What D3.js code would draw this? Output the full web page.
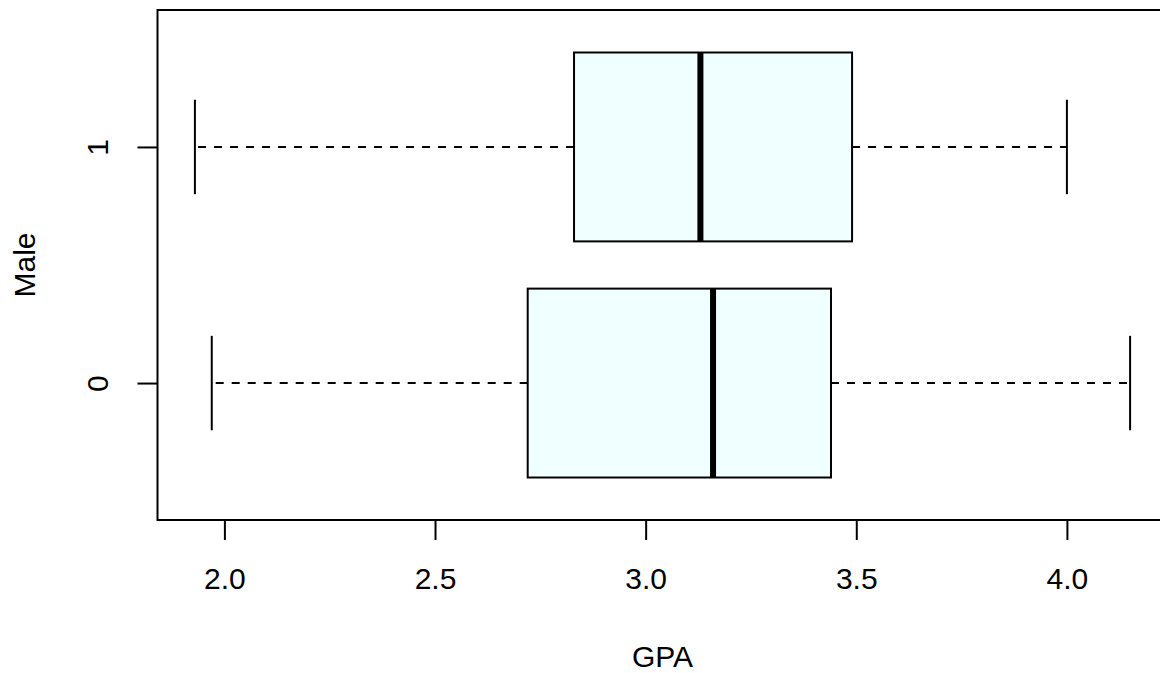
<!DOCTYPE html>
<html>
<head>
<meta charset="utf-8">
<script src="https://cdn.jsdelivr.net/npm/d3@7"></script>
<style>
  body { margin: 0; background: #fff; }
  svg { display: block; font-family: "Liberation Sans", Arial, sans-serif; }
</style>
</head>
<body>
<svg id="chart" width="1160" height="673"></svg>
<script>
// boxplot stats for GPA by Male
const groups = ["0", "1"];
const whiskerLow = [1.97, 1.93];
const lowerQuartile = [2.72, 2.83];
const medians = [3.16, 3.13];
const upperQuartile = [3.44, 3.49];
const whiskerHigh = [4.15, 4.00];
const xTicks = [2.0, 2.5, 3.0, 3.5, 4.0];

const boxes = groups.map((g, i) => ({
  group: g,
  pos: i + 1,
  lo: whiskerLow[i],
  q1: lowerQuartile[i],
  med: medians[i],
  q3: upperQuartile[i],
  hi: whiskerHigh[i]
}));

const plotLeft = 157.5, plotRight = 1167.5, plotTop = 10, plotBottom = 520;
const fontSize = 30;

let svg = d3.select("#chart");

// R-style 4% extension of the data range
let xMin = d3.min(whiskerLow), xMax = d3.max(whiskerHigh);
let pad = (xMax - xMin) * 0.04;

let xScale = d3.scaleLinear()
  .domain([xMin - pad, xMax + pad])
  .range([plotLeft, plotRight]);

let yPad = groups.length * 0.04;
let yScale = d3.scaleLinear()
  .domain([0.5 - yPad, groups.length + 0.5 + yPad])
  .range([plotBottom, plotTop]);

let boxHalf = 0.4, stapleHalf = 0.2;

let boxG = svg.append("g").selectAll("g.box").data(boxes).join("g").attr("class", "box");

// whiskers (dashed)
boxG.append("line")
  .attr("x1", d => xScale(d.q1)).attr("x2", d => xScale(d.lo))
  .attr("y1", d => yScale(d.pos)).attr("y2", d => yScale(d.pos))
  .attr("stroke", "#000").attr("stroke-width", 2).attr("stroke-dasharray", "8,8");

boxG.append("line")
  .attr("x1", d => xScale(d.q3)).attr("x2", d => xScale(d.hi))
  .attr("y1", d => yScale(d.pos)).attr("y2", d => yScale(d.pos))
  .attr("stroke", "#000").attr("stroke-width", 2).attr("stroke-dasharray", "8,8");

// staples
boxG.append("line")
  .attr("x1", d => xScale(d.lo)).attr("x2", d => xScale(d.lo))
  .attr("y1", d => yScale(d.pos + stapleHalf)).attr("y2", d => yScale(d.pos - stapleHalf))
  .attr("stroke", "#000").attr("stroke-width", 2);

boxG.append("line")
  .attr("x1", d => xScale(d.hi)).attr("x2", d => xScale(d.hi))
  .attr("y1", d => yScale(d.pos + stapleHalf)).attr("y2", d => yScale(d.pos - stapleHalf))
  .attr("stroke", "#000").attr("stroke-width", 2);

// boxes
boxG.append("rect")
  .attr("x", d => xScale(d.q1))
  .attr("y", d => yScale(d.pos + boxHalf))
  .attr("width", d => xScale(d.q3) - xScale(d.q1))
  .attr("height", d => yScale(d.pos - boxHalf) - yScale(d.pos + boxHalf))
  .attr("fill", "#F0FFFF")
  .attr("stroke", "#000")
  .attr("stroke-width", 2);

// medians
boxG.append("line")
  .attr("x1", d => xScale(d.med)).attr("x2", d => xScale(d.med))
  .attr("y1", d => yScale(d.pos + boxHalf)).attr("y2", d => yScale(d.pos - boxHalf))
  .attr("stroke", "#000").attr("stroke-width", 6);

// frame
svg.append("rect")
  .attr("x", plotLeft).attr("y", plotTop)
  .attr("width", plotRight - plotLeft).attr("height", plotBottom - plotTop)
  .attr("fill", "none").attr("stroke", "#000").attr("stroke-width", 2);

// x axis
let xAxis = d3.axisBottom(xScale)
  .tickValues(xTicks)
  .tickFormat(d3.format(".1f"))
  .tickSize(20)
  .tickSizeOuter(0);

let xAxisG = svg.append("g")
  .attr("transform", `translate(0, ${plotBottom})`)
  .call(xAxis);
xAxisG.select(".domain").remove();
xAxisG.selectAll("line").attr("stroke-width", 2);
xAxisG.selectAll("text")
  .attr("y", 69).attr("dy", null)
  .attr("font-size", fontSize).attr("fill", "#000");
xAxisG.attr("font-family", null).attr("font-size", null);

// y axis
let yAxis = d3.axisLeft(yScale)
  .tickValues(boxes.map(d => d.pos))
  .tickFormat((d, i) => groups[i])
  .tickSize(20)
  .tickSizeOuter(0);

let yAxisG = svg.append("g")
  .attr("transform", `translate(${plotLeft}, 0)`)
  .call(yAxis);
yAxisG.select(".domain").remove();
yAxisG.selectAll("line").attr("stroke-width", 2);
yAxisG.selectAll("text")
  .attr("x", 0).attr("dy", null)
  .attr("transform", "translate(-49.5, 0) rotate(-90)")
  .attr("text-anchor", "middle")
  .attr("font-size", fontSize).attr("fill", "#000");
yAxisG.attr("font-family", null).attr("font-size", null);

// axis titles
svg.append("text")
  .attr("x", (plotLeft + plotRight) / 2).attr("y", 667)
  .attr("text-anchor", "middle")
  .attr("font-size", fontSize)
  .text("GPA");

svg.append("text")
  .attr("transform", `translate(35, ${(plotTop + plotBottom) / 2}) rotate(-90)`)
  .attr("text-anchor", "middle")
  .attr("font-size", fontSize)
  .text("Male");
</script>
</body>
</html>
